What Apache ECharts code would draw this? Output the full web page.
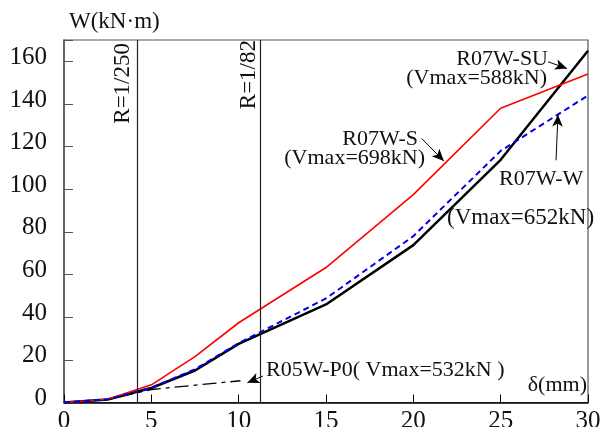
<!DOCTYPE html>
<html><head><meta charset="utf-8">
<script src="https://cdn.jsdelivr.net/npm/echarts@6/dist/echarts.min.js"></script>
<style>html,body{margin:0;padding:0;background:#fff}#c{width:600px;height:427px}</style>
</head><body><div id="c"></div>
<script>
// ---- data ----
const xTickLabels = [0, 5, 10, 15, 20, 25, 30];
const yTickLabels = [0, 20, 40, 60, 80, 100, 120, 140, 160];
const seriesS  = [[0,0],[2.5,1.5],[5,8.3],[7.5,21.5],[10,37.4],[15,63.3],[20,97.5],[25,138],[30,154]];
const seriesSU = [[0,0],[2.5,1.4],[5,6.8],[7.5,15],[10,27.5],[15,46],[20,73.8],[25,113.8],[30,165]];
const seriesW  = [[0,0],[2.5,1.5],[5,6.9],[7.5,15.6],[10,27.8],[15,48.8],[20,78],[25,118],[30,144]];
const seriesP0 = [[0,0],[2.5,1.4],[5,6.1],[10.1,10.2]];
const driftLines = [{x: 4.2, label: 'R=1/250'}, {x: 11.22, label: 'R=1/82'}];
const driftLabelGap = [3, 0];

const FONT = '"Liberation Serif","Noto Sans CJK JP",serif';
const chart = echarts.init(document.getElementById('c'), null, {renderer: 'canvas'});

function arrow(from, to) {
  return [{coord: from, symbol: 'none'}, {coord: to, symbol: 'arrow'}];
}
const arrowML = (pairs) => ({
  silent: true, animation: false,
  symbol: ['none', 'arrow'], symbolSize: [8, 12],
  label: {show: false},
  lineStyle: {color: '#000', width: 1, type: 'solid'},
  emphasis: {disabled: true},
  data: pairs
});

const txt = (text, x, y, align, size) => ({
  type: 'text', x, y, silent: true,
  style: {text, fill: '#111', font: (size || 22) + 'px ' + FONT, align, verticalAlign: 'middle'}
});

chart.setOption({
  animation: false,
  grid: {left: 64, right: 12, top: 40, bottom: 24.5, show: true, borderColor: '#555', borderWidth: 1.2,
         outerBoundsMode: 'none', containLabel: false},
  xAxis: {
    type: 'value', min: 0, max: 30, interval: 5,
    axisLine: {show: true, lineStyle: {color: '#000', width: 1.5}},
    axisTick: {show: true, inside: true, length: 8, lineStyle: {color: '#000', width: 1}},
    splitLine: {show: false},
    axisLabel: {margin: 6, color: '#111', fontSize: 25, fontFamily: FONT,
      formatter: v => xTickLabels.includes(v) ? String(v) : ''}
  },
  yAxis: {
    type: 'value', min: 0, max: 170, interval: 20,
    axisLine: {show: true, lineStyle: {color: '#555', width: 1.5}},
    axisTick: {show: true, inside: true, length: 9, lineStyle: {color: '#555', width: 1}},
    splitLine: {show: false},
    axisLabel: {margin: 17, color: '#111', fontSize: 25, fontFamily: FONT,
      verticalAlign: 'bottom', lineHeight: 8,
      formatter: v => yTickLabels.includes(v) ? String(v) : ''}
  },
  series: [
    {name: 'R07W-S', type: 'line', data: seriesS, symbol: 'none', z: 3,
     lineStyle: {color: '#ff0000', width: 1.6},
     markLine: arrowML([arrow([20.48, 123.8], [21.75, 113.2])])},
    {name: 'R07W-W', type: 'line', data: seriesW, symbol: 'none', z: 3,
     lineStyle: {color: '#0000ee', width: 2, type: [6, 4]},
     markLine: arrowML([arrow([28.17, 113.6], [28.28, 135])])},
    {name: 'R07W-SU', type: 'line', data: seriesSU, symbol: 'none', z: 2,
     lineStyle: {color: '#000', width: 2.5},
     markLine: arrowML([arrow([27.71, 159.8], [28.8, 156.6])])},
    {name: 'R05W-P0', type: 'line', data: seriesP0, symbol: 'none', z: 1,
     lineStyle: {color: '#000', width: 1.3, type: [14, 5, 4, 5]},
     markLine: arrowML([arrow([11.39, 12.4], [10.5, 9.3])])},
    {name: 'drift', type: 'line', data: [], symbol: 'none',
     markLine: {
       silent: true, animation: false, symbol: 'none',
       lineStyle: {color: '#222', width: 1.2, type: 'solid'},
       label: {show: true, position: 'insideEndTop', distance: 3, color: '#111', fontSize: 23, fontFamily: FONT,
               formatter: p => p.name},
       emphasis: {disabled: true},
       data: driftLines.map((d, i) => ({xAxis: d.x, name: d.label, label: {distance: driftLabelGap[i]}}))
     }}
  ],
  graphic: [
    txt('W(kN·m)', 69, 22, 'left', 23),
    txt('R07W-SU', 548, 59.5, 'right'),
    txt('(Vmax=588kN)', 547, 78, 'right'),
    txt('R07W-S', 418, 139, 'right'),
    txt('(Vmax=698kN)', 425, 158.5, 'right'),
    txt('R07W-W', 499, 179.5, 'left'),
    txt('(Vmax=652kN)', 447, 217.5, 'left', 23),
    txt('R05W-P0( Vmax=532kN )', 266, 370, 'left'),
    txt('δ(mm)', 587, 385, 'right')
  ]
});
</script></body></html>
